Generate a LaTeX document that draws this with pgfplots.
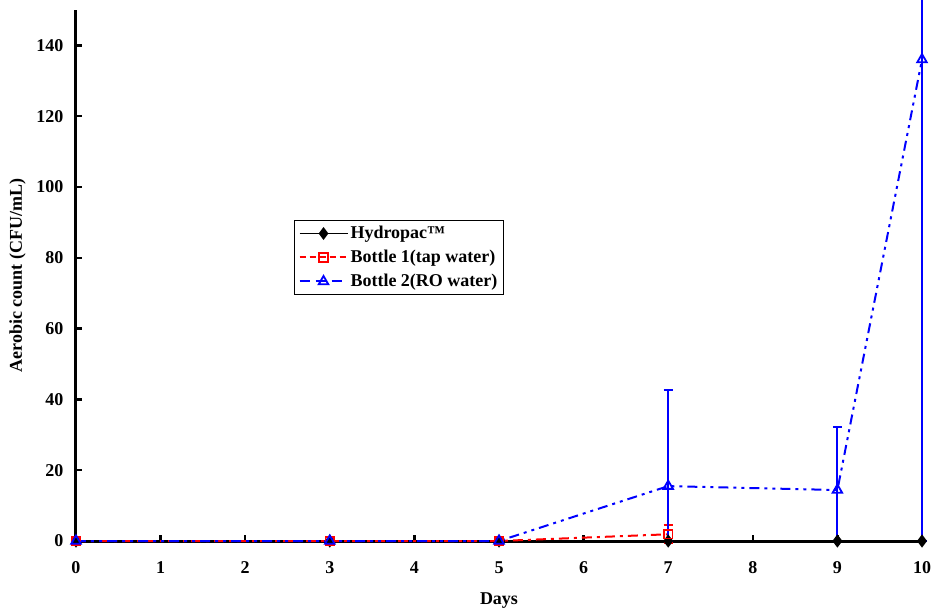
\documentclass[border=0pt]{standalone}
\usepackage{fontspec}
\setmainfont{Liberation Serif}
\usepackage{pgfplots}
\pgfplotsset{compat=1.18}
\begin{document}
\begin{tikzpicture}
\begin{axis}[
  at={(0,0)}, anchor=south west,
  scale only axis, width=846pt, height=531pt,
  xmin=0, xmax=10, ymin=0, ymax=150,
  clip=false,
  axis x line=bottom, axis y line=left,
  axis line style={line width=3pt, -},
  xtick={0,...,10}, ytick={0,20,...,140},
  tick align=inside, major tick length=6pt,
  tick style={line width=2.4pt, black},
  /pgf/number format/assume math mode=true,
  ticklabel style={font=\bfseries\fontsize{18}{21}\selectfont},
  xticklabel style={yshift=-17pt},
  yticklabel style={xshift=-9pt},
  xlabel={Days}, ylabel={Aerobic count (CFU/mL)},
  label style={font=\bfseries\fontsize{18}{21}\selectfont},
  xlabel style={yshift=-12pt},
  ylabel style={yshift=4pt},
  legend style={at={(0.2577,0.6045)}, anchor=north west, draw=black,
    line width=1pt, font=\bfseries\fontsize{18}{21}\selectfont,
    row sep=6pt, inner sep=4pt},
  legend cell align=left,
  legend image code/.code={\draw[mark repeat=2,mark phase=2]
    plot coordinates {(0pt,0pt)(24pt,0pt)(48pt,0pt)};},
  error bars/error mark options={rotate=90, mark size=4.5pt, line width=2pt},
]
% Hydropac
\addplot[black, line width=2pt, mark=diamond*, mark size=5pt, forget plot]
  coordinates {(0,0)(3,0)(5,0)(7,0)(9,0)(10,0)};
% Bottle 1 (tap water)
\addplot[red, line width=2pt, dash pattern=on 10pt off 5pt on 3pt off 5pt,
  mark=square, mark size=4.3pt, mark options={solid, line width=1.8pt, fill=white},
  forget plot,
  error bars/.cd, y dir=both, y explicit,
  error bar style={solid, line width=2pt}]
  coordinates {(0,0)(3,0)(5,0)(7,1.9) +- (0,2.6)};
% Bottle 2 (RO water); lower bars stop at zero, the last one runs off the top
\addplot[blue, line width=2pt, dash pattern=on 10pt off 5pt on 3pt off 5pt on 3pt off 5pt,
  mark=triangle, mark size=5.5pt, mark options={solid, line width=1.8pt, fill=white},
  forget plot,
  error bars/.cd, y dir=both, y explicit,
  error bar style={solid, line width=2pt}]
  coordinates {(0,0)(3,0)(5,0)
    (7,15.5) += (0,27.2) -= (0,15.5)
    (9,14.4) += (0,17.8) -= (0,14.4)
    (10,136) += (0,18) -= (0,136)};
\addlegendimage{black, line width=1.8pt, mark=diamond*, mark size=5pt}
\addlegendentry{Hydropac™}
\addlegendimage{red, line width=2pt, dash pattern=on 6pt off 4pt, mark=square, mark size=4.3pt, mark options={solid, line width=1.8pt, fill=white}}
\addlegendentry{Bottle 1(tap water)}
\addlegendimage{blue, line width=2pt, dash pattern=on 10pt off 6pt, mark=triangle, mark size=5.5pt, mark options={solid, line width=1.8pt, fill=white}}
\addlegendentry{Bottle 2(RO water)}
\end{axis}
\pgfresetboundingbox
\useasboundingbox (-76pt,-73pt) rectangle (856pt,541pt);
\end{tikzpicture}
\end{document}
